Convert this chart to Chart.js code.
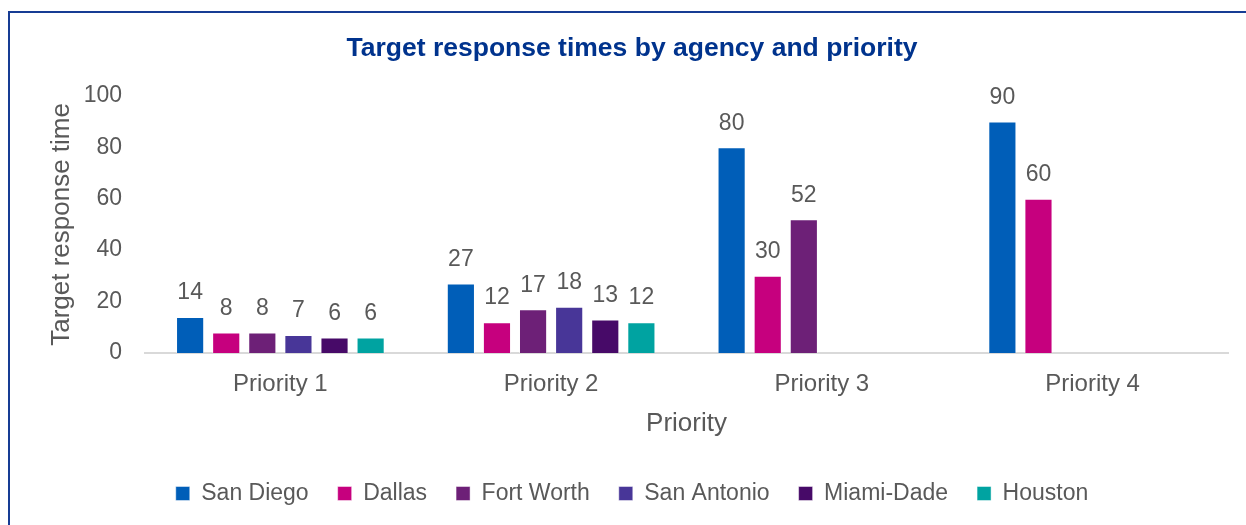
<!DOCTYPE html>
<html>
<head>
<meta charset="utf-8">
<script src="https://cdn.jsdelivr.net/npm/chart.js@4/dist/chart.umd.min.js"></script>
<style>
    html, body { margin: 0; padding: 0; background: #ffffff; overflow: hidden; }
    #frame {
        position: absolute; left: 8px; top: 11px; width: 1300px; height: 600px;
        border: 2px solid #173c94; pointer-events: none;
    }
    #chart { position: absolute; left: 0; top: 0; }
</style>
</head>
<body>
<canvas id="chart" width="1246" height="525"></canvas>
<div id="frame"></div>
<script>
const priorities = ['Priority 1', 'Priority 2', 'Priority 3', 'Priority 4'];
const agencies = ['San Diego', 'Dallas', 'Fort Worth', 'San Antonio', 'Miami-Dade', 'Houston'];
const agencyColors = ['#005eb8', '#c6007e', '#6d2077', '#483698', '#470a68', '#00a3a1'];

const sanDiego = [14, 27, 80, 90];
const dallas = [8, 12, 30, 60];
const fortWorth = [8, 17, 52, null];
const sanAntonio = [7, 18, null, null];
const miamiDade = [6, 13, null, null];
const houston = [6, 12, null, null];

const yTicks = [0, 20, 40, 60, 80, 100];

const seriesValues = [sanDiego, dallas, fortWorth, sanAntonio, miamiDade, houston];
const textColor = '#595959';
const fontFamily = '"Liberation Sans", Arial, sans-serif';

// value labels above each bar
const barLabels = {
    id: 'barLabels',
    afterDatasetsDraw: function (chart) {
        const ctx = chart.ctx;
        ctx.save();
        ctx.font = '23px ' + fontFamily;
        ctx.fillStyle = textColor;
        ctx.textAlign = 'center';
        ctx.textBaseline = 'middle';
        chart.data.datasets.forEach(function (dataset, i) {
            const meta = chart.getDatasetMeta(i);
            meta.data.forEach(function (bar, j) {
                const value = dataset.data[j];
                if (value === null || value === undefined) return;
                ctx.fillText(String(value), bar.x, bar.y - 24);
            });
        });
        ctx.restore();
    }
};

new Chart(document.getElementById('chart'), {
    type: 'bar',
    data: {
        labels: priorities,
        datasets: agencies.map(function (name, i) {
            return {
                label: name,
                data: seriesValues[i],
                backgroundColor: agencyColors[i],
                borderColor: 'rgba(255, 255, 255, 0.45)',
                borderWidth: 1,
                categoryPercentage: 0.8,
                barPercentage: 0.78
            };
        })
    },
    options: {
        responsive: false,
        animation: false,
        devicePixelRatio: 1,
        layout: {
            padding: { left: 36, right: 18, top: 0, bottom: 10 }
        },
        plugins: {
            title: {
                display: true,
                text: 'Target response times by agency and priority',
                color: '#00338d',
                font: { family: fontFamily, size: 26.5, weight: 'bold' },
                padding: { top: 33, bottom: 31 }
            },
            legend: {
                position: 'bottom',
                labels: {
                    color: textColor,
                    font: { family: fontFamily, size: 23 },
                    boxWidth: 14,
                    boxHeight: 14,
                    padding: 29
                }
            },
            tooltip: { enabled: false }
        },
        scales: {
            x: {
                grid: { display: false, drawTicks: false },
                border: { display: true, color: '#d9d9d9', width: 2 },
                ticks: {
                    color: textColor,
                    font: { family: fontFamily, size: 24 },
                    padding: 17,
                    maxRotation: 0
                },
                title: {
                    display: true,
                    text: 'Priority',
                    color: textColor,
                    font: { family: fontFamily, size: 26 },
                    padding: { top: 0, bottom: 14 }
                },
                afterFit: function (scale) {
                    scale.height = 100;
                }
            },
            y: {
                min: 0,
                max: 100,
                grid: { display: false, drawTicks: false },
                border: { display: false },
                afterBuildTicks: function (scale) {
                    scale.ticks = yTicks.map(function (v) { return { value: v }; });
                },
                ticks: {
                    color: textColor,
                    font: { family: fontFamily, size: 23 },
                    padding: 23
                },
                title: {
                    display: true,
                    text: 'Target response time',
                    color: textColor,
                    font: { family: fontFamily, size: 26 },
                    padding: { top: 10, bottom: 0 }
                },
                afterFit: function (scale) {
                    scale.width = 109;
                }
            }
        }
    },
    plugins: [barLabels]
});
</script>
</body>
</html>
